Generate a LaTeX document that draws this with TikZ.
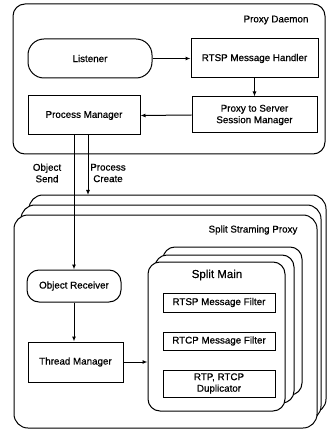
\documentclass[tikz,border=0pt]{standalone}
\usepackage{fontspec}
\setmainfont{Liberation Sans}[FakeBold=0.6]
\usetikzlibrary{arrows.meta}
\begin{document}
\begin{tikzpicture}[x=1pt,y=-1pt,
  txt/.style={font=\fontsize{9.8}{11.5}\selectfont},
  box/.style={draw, line width=1pt, fill=white, inner sep=0pt, align=center, txt},
  rbox/.style={box, rounded corners=13pt},
  layer/.style={draw, line width=1pt, fill=white},
  arr/.style={line width=1pt, -{Latex[length=5pt,width=4pt]}},
  lbl/.style={align=center, inner sep=0pt, txt}]
\useasboundingbox (0,0) rectangle (327,430);
% Proxy Daemon
\draw[layer, rounded corners=12pt] (13,4) rectangle (325,154);
\node[lbl] (pdl) at (276,20) {Proxy Daemon};
\node[rbox, rounded corners=16pt, minimum width=124pt, minimum height=39pt] (lis) at (90,58.5) {Listener};
\node[box, minimum width=127pt, minimum height=39pt] (rmh) at (254.5,58.5) {RTSP Message Handler};
\node[box, minimum width=125pt, minimum height=36pt] (pss) at (254.5,115) {Proxy to Server\\Session Manager};
\node[box, minimum width=112pt, minimum height=39pt] (pm) at (84,115.5) {Process Manager};
\draw[arr] (lis.east) -- (rmh.west);
\draw[arr] (rmh.south) -- (pss.north);
\draw[arr] (pss.west) -- (pm.west -| pm.east);
% Split Streaming Proxy stack
\draw[layer, rounded corners=14pt] (29,195) rectangle (326,413);
\draw[layer, rounded corners=14pt] (21,205) rectangle (321,420);
\draw[layer, rounded corners=14pt] (14,215) rectangle (317,428);
\coordinate (sspTop) at (88,195);
\node[lbl] (sspl) at (253,230) {Split Straming Proxy};
% Split Main stack
\draw[layer, rounded corners=12pt] (163,247) rectangle (302,395);
\draw[layer, rounded corners=12pt] (155,255) rectangle (294,403);
\node[layer, rounded corners=12pt, inner sep=0pt, minimum width=137pt, minimum height=149pt] (sm) at (216.5,336.5) {};
\node[lbl, font=\fontsize{11.5}{13}\selectfont] (sml) at (217,275) {Split Main};
\node[box, minimum width=112pt, minimum height=19pt] (rmf) at (219,302.5) {RTSP Message Filter};
\node[box, minimum width=112pt, minimum height=18pt] (rcf) at (219,341) {RTCP Message Filter};
\node[box, minimum width=112pt, minimum height=27pt] (dup) at (219,383.5) {RTP, RTCP\\Duplicator};
% left column
\node[rbox, rounded corners=12pt, minimum width=94pt, minimum height=32pt] (orc) at (74,286) {Object Receiver};
\node[box, minimum width=95pt, minimum height=40pt] (tm) at (75.5,362) {Thread Manager};
\draw[arr] (pm.south -| orc.north) -- (orc.north);
\draw[arr] (pm.south -| sspTop) -- (sspTop);
\draw[arr] (orc.south) -- (orc.south |- tm.north);
\draw[arr] (tm.east) -- (tm.east -| sm.west);
\node[lbl] (os) at (47,173) {Object\\Send};
\node[lbl] (pc) at (108,173) {Process\\Create};
\end{tikzpicture}
\end{document}
